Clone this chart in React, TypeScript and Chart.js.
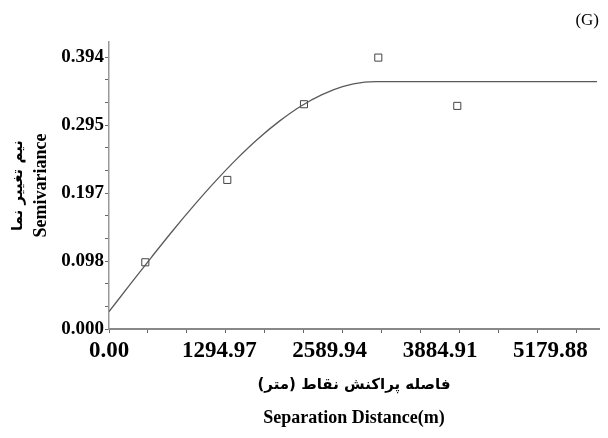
import React, { useEffect, useRef } from 'react';
import { Chart, registerables } from 'chart.js';

Chart.register(...registerables);

// Fitted variogram curve (distance in m, semivariance)
const curveDistance = [0, 250, 500, 750, 1000, 1250, 1500, 1750, 2000, 2250, 2500, 2750, 3000, 3130, 5727];
const curveGamma = [0.0251, 0.065, 0.1043, 0.1428, 0.1795, 0.2143, 0.2466, 0.2758, 0.3013, 0.3229, 0.3397, 0.3516, 0.3578, 0.3586, 0.3586];

// Experimental semivariance points
const sampleDistance = [426, 1388, 2288, 3160, 4087];
const sampleGamma = [0.0967, 0.2161, 0.3258, 0.3934, 0.3234];

// Axis tick labels
const xTickValues = [0, 1294.97, 2589.94, 3884.91, 5179.88];
const xTickLabels = ['0.00', '1294.97', '2589.94', '3884.91', '5179.88'];
const yTickValues = [0, 0.0985, 0.197, 0.2955, 0.394];
const yTickLabels = ['0.000', '0.098', '0.197', '0.295', '0.394'];

// Axis titles
const xTitleFa = '\u200Fفاصله پراکنش نقاط (متر)\u200F';
const xTitleEn = 'Separation Distance(m)';
const yTitleFa = 'نیم تغییر نما';
const yTitleEn = 'Semivariance';

const X_MAX = 5750;
const Y_MAX = 0.416;
const X_MINOR_STEP = 457.3;
const X_MINOR_COUNT = 13;
const Y_MINOR_STEP = 0.394 / 12;
const Y_MINOR_COUNT = 13;

const xMinor = Array.from({ length: X_MINOR_COUNT }, (_, i) => i * X_MINOR_STEP);
const yMinor = Array.from({ length: Y_MINOR_COUNT }, (_, i) => i * Y_MINOR_STEP);

const near = (a: number, b: number, tol: number) => Math.abs(a - b) < tol;

function mergeTicks(major: number[], minor: number[], tol: number) {
  const all = [...minor];
  major.forEach((v) => {
    if (!all.some((m) => near(m, v, tol))) all.push(v);
  });
  return all.sort((a, b) => a - b);
}

const serif = "'Liberation Serif', 'Times New Roman', 'DejaVu Sans', serif";
const arabicFont = "'DejaVu Sans', sans-serif";

// an axis that only carries a title line
function titleAxis(position: string, weight: number, size: number, text: string, family: string, fontSize: number, pad: any, min: number, max: number) {
  return {
    type: 'linear',
    position,
    weight,
    min,
    max,
    display: true,
    ticks: { display: false },
    grid: { display: false, drawTicks: false },
    border: { display: false },
    afterFit: (s: any) => {
      if (position === 'bottom') s.height = size;
      else s.width = size;
    },
    title: {
      display: true,
      text,
      color: '#000',
      font: { family, size: fontSize, weight: 'bold', lineHeight: 1.2 },
      padding: pad,
    },
  };
}

export default function App() {
  const canvasRef = useRef<HTMLCanvasElement | null>(null);

  useEffect(() => {
    const canvas = canvasRef.current;
    if (!canvas) return;

    const xAll = mergeTicks(xTickValues, xMinor, 1);
    const yAll = mergeTicks(yTickValues, yMinor, 1e-4);

    const chart = new Chart(canvas, {
      type: 'scatter',
      data: {
        datasets: [
          {
            label: 'model',
            data: curveDistance.map((d, i) => ({ x: d, y: curveGamma[i] })),
            showLine: true,
            borderColor: '#5a5a5a',
            borderWidth: 1.3,
            pointRadius: 0,
            cubicInterpolationMode: 'monotone',
            fill: false,
            xAxisID: 'x',
            yAxisID: 'y',
          },
          {
            label: 'samples',
            data: sampleDistance.map((d, i) => ({ x: d, y: sampleGamma[i] })),
            showLine: false,
            pointStyle: 'rect',
            pointRadius: 5,
            borderWidth: 1,
            borderColor: '#444',
            backgroundColor: '#fff',
            xAxisID: 'x',
            yAxisID: 'y',
          },
        ],
      },
      options: {
        animation: false,
        responsive: false,
        layout: { padding: { left: 0, right: 9, top: 0, bottom: 0 } },
        plugins: {
          legend: { display: false },
          tooltip: { enabled: false },
          title: {
            display: true,
            text: '(G)',
            align: 'end',
            color: '#000',
            font: { family: serif, size: 17, weight: 'normal', lineHeight: 1.2 },
            padding: { top: 10, bottom: 11.6 },
          },
        },
        scales: {
          x: {
            type: 'linear',
            position: 'bottom',
            weight: 0,
            min: 0,
            max: X_MAX,
            afterBuildTicks: (s: any) => {
              s.ticks = xAll.map((v) => ({ value: v }));
            },
            afterFit: (s: any) => {
              s.height = 38;
            },
            ticks: {
              autoSkip: false,
              maxRotation: 0,
              minRotation: 0,
              padding: 4,
              color: '#000',
              font: { family: serif, size: 23, weight: 'bold' },
              callback: (v: any) => {
                const i = xTickValues.findIndex((t) => near(t, Number(v), 1));
                return i >= 0 ? xTickLabels[i] : '';
              },
            },
            grid: {
              display: true,
              drawOnChartArea: false,
              drawTicks: true,
              tickLength: 4,
              lineWidth: 1,
              color: (ctx: any) => {
                const v = ctx.tick ? ctx.tick.value : 0;
                return xMinor.some((m) => near(m, v, 1)) ? '#666' : 'rgba(0,0,0,0)';
              },
            },
            border: { display: true, color: '#888', width: 2 },
          },
          xFa: titleAxis('bottom', 1, 36, xTitleFa, arabicFont, 15, { top: 0, bottom: 9 }, 0, X_MAX),
          xEn: titleAxis('bottom', 2, 35, xTitleEn, serif, 18, { top: 0, bottom: 9 }, 0, X_MAX),
          y: {
            type: 'linear',
            position: 'left',
            weight: 0,
            min: 0,
            max: Y_MAX,
            afterBuildTicks: (s: any) => {
              s.ticks = yAll.map((v) => ({ value: v }));
            },
            afterFit: (s: any) => {
              s.width = 56;
            },
            ticks: {
              autoSkip: false,
              padding: 1,
              color: '#000',
              font: { family: serif, size: 19, weight: 'bold' },
              callback: (v: any) => {
                const i = yTickValues.findIndex((t) => near(t, Number(v), 1e-4));
                return i >= 0 ? yTickLabels[i] : '';
              },
            },
            grid: {
              display: true,
              drawOnChartArea: false,
              drawTicks: true,
              tickLength: 4,
              lineWidth: 1,
              color: '#666',
            },
            border: { display: true, color: '#999', width: 1.5 },
          },
          yEn: titleAxis('left', 1, 24, yTitleEn, serif, 18, { top: 1.2, bottom: 0 }, 0, Y_MAX),
          yFa: titleAxis('left', 2, 29, yTitleFa, arabicFont, 15, { top: 9, bottom: 0 }, 0, Y_MAX),
        },
      } as any,
    });

    return () => chart.destroy();
  }, []);

  return (
    <div style={{ position: 'absolute', left: 0, top: 0, width: 608, height: 438, background: '#fff' }}>
      <canvas ref={canvasRef} width={608} height={438} style={{ width: 608, height: 438, display: 'block' }} />
    </div>
  );
}
